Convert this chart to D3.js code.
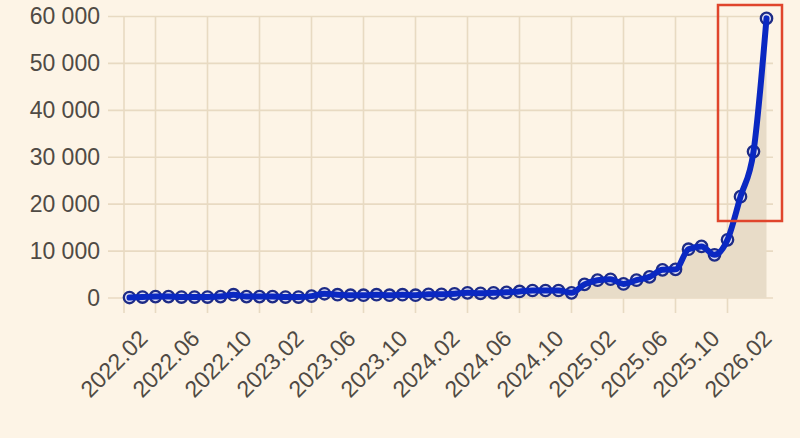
<!DOCTYPE html>
<html><head><meta charset="utf-8">
<script src="https://cdn.jsdelivr.net/npm/d3@7/dist/d3.min.js"></script>
<style>
body{margin:0;background:#fdf4e6;}
svg{display:block;}
</style>
</head><body>
<svg id="c" width="800" height="438"></svg>
<script>
const months = ["2021.12","2022.01","2022.02","2022.03","2022.04","2022.05","2022.06","2022.07","2022.08","2022.09","2022.10","2022.11","2022.12",
"2023.01","2023.02","2023.03","2023.04","2023.05","2023.06","2023.07","2023.08","2023.09","2023.10","2023.11","2023.12",
"2024.01","2024.02","2024.03","2024.04","2024.05","2024.06","2024.07","2024.08","2024.09","2024.10","2024.11","2024.12",
"2025.01","2025.02","2025.03","2025.04","2025.05","2025.06","2025.07","2025.08","2025.09","2025.10","2025.11","2025.12","2026.01"];
const values = [100,200,300,300,200,200,200,300,700,300,300,300,200,
200,400,900,700,600,600,700,600,700,600,800,800,
900,1100,1000,1100,1200,1400,1600,1600,1600,1100,2900,3800,
4000,3000,3800,4500,6000,6100,10400,11000,9200,12400,21600,31200,59600];
const tickLabels = ["2022.02","2022.06","2022.10","2023.02","2023.06","2023.10","2024.02","2024.06","2024.10","2025.02","2025.06","2025.10","2026.02"];
const yTicks = [0,10000,20000,30000,40000,50000,60000];

(function(){
const monthIndex = s => { const [yy,m] = s.split(".").map(Number); return (yy-2021)*12 + (m-12); };

const svg = d3.select("#c");
const pLeft = 124, pRight = 773, pTop = 16.5, pBottom = 298;
const x = d3.scaleLinear().domain([0, months.length-1]).range([129.5, 766.5]);
const y = d3.scaleLinear().domain([0, 60000]).range([pBottom, pTop]);
const data = months.map((m,i)=>({i:monthIndex(m), v:values[i]}));
const grid = "#e8dac2";
const font = "'Liberation Sans', Arial, sans-serif";

// horizontal gridlines
svg.append("g").selectAll("line").data(yTicks).join("line")
  .attr("x1",108).attr("x2",pRight).attr("y1",d=>y(d)).attr("y2",d=>y(d))
  .attr("stroke",grid).attr("stroke-width",1.6);
// vertical gridlines (left axis + ticks)
const tIdx = tickLabels.map(monthIndex);
const vx = [pLeft].concat(tIdx.map(t=>x(t)).filter(v=>v<=pRight));
svg.append("g").selectAll("line").data(vx).join("line")
  .attr("x1",d=>d).attr("x2",d=>d).attr("y1",pTop).attr("y2",313)
  .attr("stroke",grid).attr("stroke-width",1.6);

// area
svg.append("path").datum(data)
  .attr("d", d3.area().x(d=>x(d.i)).y0(y(0)).y1(d=>y(d.v)).curve(d3.curveMonotoneX))
  .attr("fill","#e8dcc8");

// points
svg.append("g").selectAll("circle").data(data).join("circle")
  .attr("cx",d=>x(d.i)).attr("cy",d=>y(d.v)).attr("r",5.7)
  .attr("fill","#dcdcf2").attr("stroke","#1d2b86").attr("stroke-width",2.3);

// line
svg.append("path").datum(data)
  .attr("d", d3.line().x(d=>x(d.i)).y(d=>y(d.v)).curve(d3.curveMonotoneX))
  .attr("fill","none").attr("stroke","#0a28c2").attr("stroke-width",6).attr("stroke-linejoin","round").attr("stroke-linecap","round");

// y axis labels
const fmt = d => d3.format(",")(d).replace(/,/g," ");
const ya = svg.append("g").attr("transform",`translate(108,0)`)
  .call(d3.axisLeft(y).tickValues(yTicks).tickFormat(fmt).tickSize(0).tickPadding(8));
ya.select(".domain").remove();
ya.selectAll("text").attr("font-family",font).attr("font-size",23).attr("fill","#4f4a44");

// x axis labels
const xa = svg.append("g").attr("transform",`translate(0,${pBottom})`)
  .call(d3.axisBottom(x).tickValues(tIdx).tickFormat((d,i)=>tickLabels[i]).tickSize(0));
xa.select(".domain").remove();
xa.selectAll("text")
  .attr("font-family",font).attr("font-size",23).attr("fill","#4f4a44")
  .attr("text-anchor","end").attr("dy",0).attr("y",0)
  .attr("transform","translate(-7,42) rotate(-45)");

// highlight box
svg.append("rect").attr("x",718).attr("y",5).attr("width",64).attr("height",216)
  .attr("fill","none").attr("stroke","#e0452c").attr("stroke-width",2.5);
})();
</script>
</body></html>
